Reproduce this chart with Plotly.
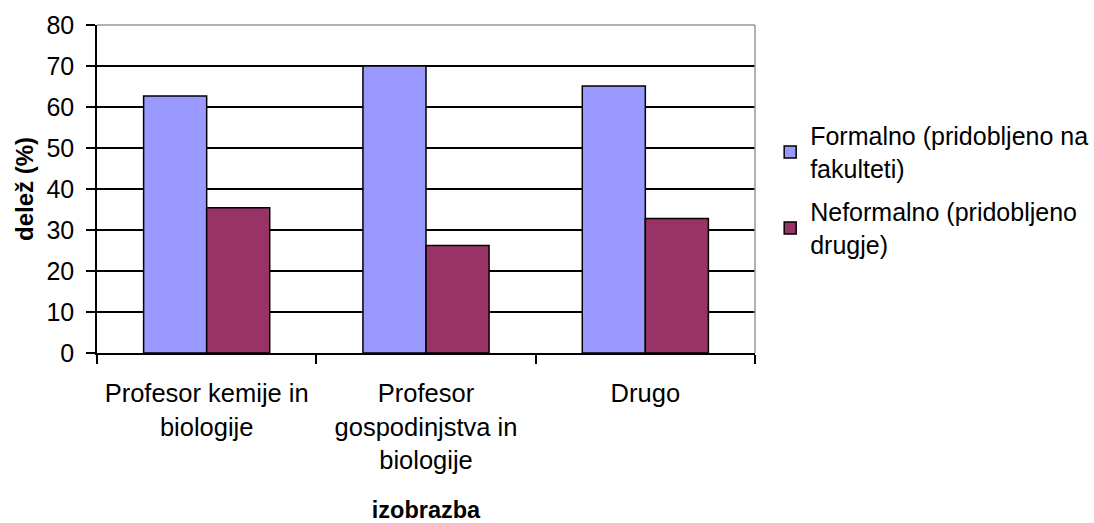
import plotly.graph_objects as go

categories = ["Profesor kemije in<br>biologije",
              "Profesor<br>gospodinjstva in<br>biologije",
              "Drugo"]
formalno = [62.7, 70.0, 65.1]
neformalno = [35.4, 26.2, 32.8]
series_names = ["Formalno (pridobljeno na<br>fakulteti)",
                "Neformalno (pridobljeno<br>drugje)"]
y_ticks = [0, 10, 20, 30, 40, 50, 60, 70, 80]

FONT = "Liberation Sans, Arial, sans-serif"

fig = go.Figure()
fig.add_trace(go.Bar(x=categories, y=formalno, name=series_names[0], legendgroup="f",
                     marker=dict(color="#9999FF", line=dict(color="black", width=1.5))))
fig.add_trace(go.Bar(x=categories, y=neformalno, name=series_names[1], legendgroup="n",
                     marker=dict(color="#993366", line=dict(color="black", width=1.5))))

fig.update_layout(
    width=1094, height=523,
    margin=dict(l=97, r=339, t=25, b=170),
    paper_bgcolor="white", plot_bgcolor="white",
    font=dict(family=FONT, color="black", size=25),
    barmode="group", bargap=0.425, bargroupgap=0,
    showlegend=True,
    legend=dict(xref="container", yref="container", x=0.704, xanchor="left",
                y=0.784, yanchor="top",
                font=dict(family=FONT, size=25, color="black"),
                bgcolor="rgba(0,0,0,0)", tracegroupgap=8),
)
fig.update_xaxes(
    automargin=False,
    showline=True, linecolor="black", linewidth=1.5,
    ticks="outside", tickson="boundaries", ticklen=9, tickwidth=1.5, tickcolor="black",
    tickfont=dict(family=FONT, size=25.5, color="black"), ticklabelstandoff=17,
    title=dict(text="<b>izobrazba</b>", font=dict(family=FONT, size=23.5, color="black"), standoff=32),
    showgrid=False, tickangle=0,
)
fig.update_yaxes(
    automargin=False,
    range=[0, 80], tickvals=y_ticks,
    showline=True, linecolor="black", linewidth=1.5,
    ticks="outside", ticklen=9, tickwidth=1.5, tickcolor="black",
    tickfont=dict(family=FONT, size=25, color="black"), ticklabelstandoff=7,
    showgrid=True, gridcolor="black", gridwidth=1.5, zeroline=False,
    title=dict(text="<b>delež (%)</b>", font=dict(family=FONT, size=24, color="black"), standoff=6),
)
# gray plot-area border on top and right
fig.add_shape(type="line", xref="x domain", yref="y domain", x0=0, x1=1, y0=1, y1=1,
              line=dict(color="#999999", width=1.5), layer="above")
fig.add_shape(type="line", xref="x domain", yref="y domain", x0=1, x1=1, y0=0, y1=1,
              line=dict(color="#999999", width=1.5), layer="above")

fig.write_html("out.html", config={"displayModeBar": False},
               post_script="document.body.style.margin='0';document.body.style.overflow='hidden';")
